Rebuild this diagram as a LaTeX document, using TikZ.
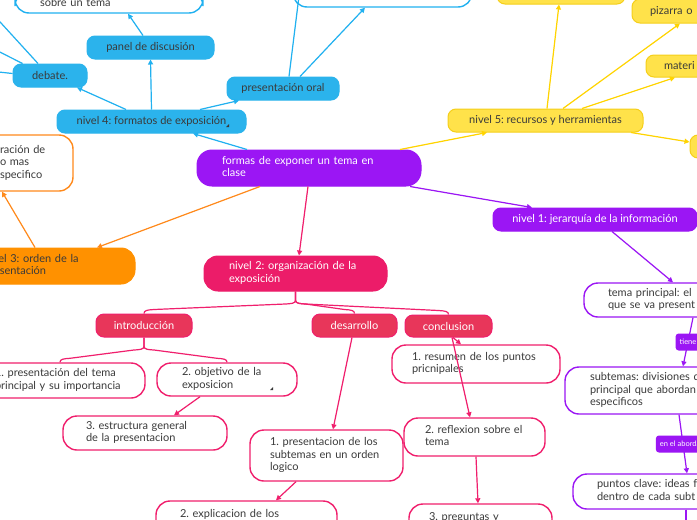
\documentclass[tikz,border=0pt]{standalone}
\usepackage{fontspec}
\setmainfont{Lato}
\frenchspacing
\usetikzlibrary{arrows.meta,calc}
\definecolor{txt}{HTML}{3A3A3A}
\definecolor{blueF}{HTML}{2BB3EC}
\definecolor{blueL}{HTML}{21B1F0}
\definecolor{yelF}{HTML}{FFE24A}
\definecolor{yelB}{HTML}{F5CF1A}
\definecolor{yelL}{HTML}{FFD400}
\definecolor{purF}{HTML}{9B16F4}
\definecolor{oraF}{HTML}{FF9100}
\definecolor{oraL}{HTML}{FF8A1C}
\definecolor{pinkF}{HTML}{EC1C69}
\definecolor{redF}{HTML}{E8365A}
\definecolor{pinkL}{HTML}{F01F6D}
\newcommand{\mlines}[1]{\begin{tabular}{@{}l@{}}#1\end{tabular}}
\begin{document}
\begin{tikzpicture}[x=1pt,y=-1pt,
  bx/.style={rounded corners=8pt, inner sep=0pt, font=\fontsize{11}{12.5}\selectfont\frenchspacing, line width=1pt},
  bluebox/.style={bx, fill=blueF, draw=blueF, text=txt},
  yelbox/.style={bx, fill=yelF, draw=yelB, text=txt},
  purbox/.style={bx, fill=purF, draw=purF, text=white},
  orabox/.style={bx, fill=oraF, draw=oraF, text=txt},
  pinkbox/.style={bx, fill=pinkF, draw=pinkF, text=white},
  redbox/.style={bx, fill=redF, draw=pinkL, text=white},
  wbox/.style={bx, rounded corners=14pt, fill=white, draw=#1, line width=1.4pt, text=txt},
  lt/.style={align=left, text width=#1},
  lbl/.style={fill=purF, text=white, font=\fontsize{7.5}{9}\selectfont, rounded corners=3pt, inner xsep=4pt, inner ysep=0pt, minimum height=17pt},
  con/.style={line width=1.2pt, -{Triangle[length=5pt,width=5pt]}},
  bcon/.style={con, draw=blueL, fill=blueL},
  ycon/.style={con, draw=yelL, fill=yelL},
  pcon/.style={con, draw=purF, fill=purF},
  ocon/.style={con, draw=oraL, fill=oraL},
  kcon/.style={con, draw=pinkL, fill=pinkL},
  kline/.style={line width=1.2pt, draw=pinkL}]
\useasboundingbox (0,0) rectangle (697,520);
\clip (0,0) rectangle (697,520);
\fill[white] (0,0) rectangle (697,520);
% blue branch
\node[wbox=blueL, lt=138pt, inner xsep=25pt, minimum height=21pt] (topL) at (109,2.5) {sobre un tema};
\node[wbox=blueL, minimum width=179pt, minimum height=27pt] (topM) at (382.5,-6.5) {};
\node[bluebox, minimum width=127pt, minimum height=23pt] (panel) at (150.5,47.5) {panel de discusión};
\node[bluebox, minimum width=74pt, minimum height=23pt] (debate) at (50,75.5) {debate.};
\node[bluebox, minimum width=189pt, minimum height=23pt] (nivel4) at (151.5,121.5) {nivel 4: formatos de exposición};
\node[bluebox, minimum width=112pt, minimum height=23pt] (oral) at (283,88.5) {presentación oral};
% yellow branch
\node[yelbox, minimum width=128pt, minimum height=24pt] (topY) at (561,-8) {};
\node[yelbox, lt=94pt, inner xsep=18pt, minimum height=24pt] (pizarra) at (697,11) {pizarra o};
\node[yelbox, lt=94pt, inner xsep=18pt, minimum height=22pt] (materi) at (711,66) {materi};
\node[yelbox, minimum width=70pt, minimum height=23pt] (smallY) at (725,146.5) {};
\node[yelbox, minimum width=195pt, minimum height=23pt] (nivel5) at (545.5,120.5) {nivel 5: recursos y herramientas};
% purple
\node[purbox, lt=174pt, inner xsep=25pt, minimum height=36pt, rounded corners=15pt] (formas) at (309,168) {\mlines{formas de exponer un tema en\\clase}};
\node[purbox, minimum width=204pt, minimum height=23pt] (nivel1) at (595,219.5) {nivel 1: jerarquía de la información};
\node[wbox=purF, lt=148pt, inner xsep=24pt, minimum height=34pt] (tema) at (682,300) {\mlines{tema principal: el\\que se va present}};
\node[wbox=purF, lt=175pt, inner xsep=25pt, minimum height=47pt] (subtemas) at (677.5,390.5) {\mlines{subtemas: divisiones d\\principal que abordan\\especificos}};
\node[wbox=purF, lt=169pt, inner xsep=24pt, minimum height=35pt] (puntos) at (681.5,491.5) {\mlines{puntos clave: ideas f\\dentro de cada subt}};
% orange
\node[orabox, lt=126pt, inner xsep=25pt, minimum height=36pt, rounded corners=14pt] (nivel3) at (47,266) {\mlines{nivel 3: orden de la\\presentación}};
\node[wbox=oraL, lt=56pt, inner xsep=17pt, minimum height=56pt] (oraTop) at (28,163) {\mlines{ración de\\o mas\\specifico}};
% pink
\node[pinkbox, lt=133pt, inner xsep=25pt, minimum height=35pt, rounded corners=14pt] (nivel2) at (295.5,273.5) {\mlines{nivel 2: organización de la\\exposición}};
\node[redbox, minimum width=96pt, minimum height=23pt] (intro) at (144,325.5) {introducción};
\node[redbox, minimum width=85pt, minimum height=23pt] (desarrollo) at (354.5,325.5) {desarrollo};
\node[redbox, minimum width=87pt, minimum height=22pt] (conclusion) at (448.5,326) {conclusion};
\node[wbox=pinkL, lt=130pt, inner xsep=20pt, minimum height=35pt] (p1) at (60,380.5) {\mlines{1. presentación del tema\\principal y su importancia}};
\node[wbox=pinkL, lt=90pt, inner xsep=25pt, minimum height=33pt] (p2) at (227,379.5) {\mlines{2. objetivo de la\\exposicion}};
\node[wbox=pinkL, lt=118pt, inner xsep=23pt, minimum height=34pt] (p3) at (145,433) {\mlines{3. estructura general\\de la presentacion}};
\node[wbox=pinkL, lt=113pt, inner xsep=20pt, minimum height=51pt] (d1) at (326.5,455.5) {\mlines{1. presentacion de los\\subtemas en un orden\\logico}};
\node[wbox=pinkL, lt=133pt, inner xsep=24pt, minimum height=40pt] (d2) at (246.5,521) {\mlines{2. explicacion de los\\\mbox{}}};
\node[wbox=pinkL, lt=128pt, inner xsep=20pt, minimum height=38pt] (c1) at (476,364) {\mlines{1. resumen de los puntos\\pricnipales}};
\node[wbox=pinkL, lt=99pt, inner xsep=21pt, minimum height=38pt] (c2) at (474.5,437) {\mlines{2. reflexion sobre el\\tema}};
\node[wbox=pinkL, lt=103pt, inner xsep=20pt, minimum height=40pt] (c3) at (480.5,524) {\mlines{3. preguntas y\\\mbox{}}};
% note marks
\fill[txt] (226,127) -- (229,127) -- (229,124) -- cycle;
\fill[txt] (270,390) -- (273,390) -- (273,387) -- cycle;
% off-picture ends
\coordinate (offA) at (-20,0);
\coordinate (offB) at (-20,42);
\coordinate (offC) at (-20,70);
\coordinate (offD) at (301,-20);
\coordinate (offE) at (686,540);
% blue connectors
\draw[bcon] (nivel4.north) -- (panel.south);
\draw[bcon] ([xshift=-25.5pt]nivel4.north) -- ([xshift=27pt]debate.south);
\draw[bcon] ([xshift=48.5pt]nivel4.north) -- ([xshift=-44pt]oral.south);
\draw[bcon] ([xshift=-62pt]formas.north) -- ([xshift=41.5pt]nivel4.south);
\draw[bcon] ([xshift=-7.5pt]panel.north) -- ([xshift=19pt]topL.south);
\draw[bcon] ([xshift=-12pt]debate.north) -- (offA);
\draw[bcon] ([xshift=10pt]debate.north west) -- (offB);
\draw[bcon] ([yshift=2pt]debate.west) -- (offC);
\draw[bcon] ([xshift=6pt]oral.north) -- (offD);
\draw[bcon] ([xshift=17pt]oral.north) -- ([xshift=-17.5pt]topM.south);
% yellow connectors
\draw[ycon] ([xshift=91pt]formas.north) -- ([xshift=-58.5pt]nivel5.south);
\draw[ycon] ([xshift=1.5pt]nivel5.north) -- ([xshift=-2pt]topY.south);
\draw[ycon] ([xshift=17.5pt]nivel5.north) -- ([xshift=-17pt]pizarra.south);
\draw[ycon] ([xshift=36.5pt]nivel5.north) -- ([xshift=-36pt]materi.south);
\draw[ycon] ([xshift=85.5pt]nivel5.south) -- ([yshift=4.5pt]smallY.west);
% purple connectors
\draw[pcon] ([xshift=101pt]formas.south) -- ([xshift=-63pt]nivel1.north);
\draw[pcon] ([xshift=17pt]nivel1.south) -- ([xshift=-9pt]tema.north);
\draw[pcon] ([xshift=11pt]tema.south) -- node[lbl] (lt1) {tiene} ([xshift=5.5pt]subtemas.north);
\draw[pcon] ([xshift=1.5pt]subtemas.south) -- node[lbl] (lt2) {en el abordaje} ([xshift=5.5pt]puntos.north);
\draw[pcon] ([xshift=4.5pt]puntos.south) -- (offE);
% orange connectors
\draw[ocon] ([xshift=-49pt]formas.south) -- ([xshift=50pt]nivel3.north);
\draw[ocon] ([xshift=-12pt]nivel3.north) -- ([xshift=-26pt]oraTop.south);
% pink connectors
\draw[kcon] ([xshift=-1pt]formas.south) -- ([xshift=3.5pt]nivel2.north);
\draw[kline] (nivel2.south) -- ++(0,9) .. controls +(0,3) and +(5,-0.3) .. ++(-10,3.5) -- ([xshift=10pt,yshift=4pt]intro.north) .. controls +(-7,0.4) and +(0,-3) .. (intro.north);
\draw[kline] (nivel2.south) -- ++(0,9) .. controls +(0,3) and +(-5,-0.3) .. ++(10,3.5) -- ([xshift=-10pt,yshift=4pt]desarrollo.north) .. controls +(7,0.4) and +(0,-3) .. (desarrollo.north);
\draw[kline] (nivel2.south) -- ++(0,9) .. controls +(0,3) and +(-5,-0.3) .. ++(10,3.5) -- ([xshift=-10pt,yshift=4pt]conclusion.north) .. controls +(7,0.4) and +(0,-3) .. (conclusion.north);
\draw[kline] (intro.south) -- ++(0,9) .. controls +(0,3) and +(5,-0.3) .. ++(-10,3.5) -- ([xshift=10pt,yshift=4pt]p1.north) .. controls +(-7,0.4) and +(0,-3) .. (p1.north);
\draw[kline] (intro.south) -- ++(0,9) .. controls +(0,3) and +(-5,-0.3) .. ++(10,3.5) -- ([xshift=-10pt,yshift=4pt]p2.north) .. controls +(7,0.4) and +(0,-3) .. (p2.north);
\draw[kcon] ([xshift=-27pt]p2.south) -- ([xshift=29pt]p3.north);
\draw[kcon] ([xshift=-2.5pt]desarrollo.south) -- ([xshift=6.5pt]d1.north);
\draw[kcon] ([xshift=-30.5pt]d1.south) -- ([xshift=29.5pt]d2.north);
\draw[kcon] ([xshift=4.5pt]conclusion.south) -- ([xshift=-15pt]c1.north);
\draw[kcon] ([xshift=3.5pt]conclusion.south) -- ([xshift=-4.5pt]c2.north);
\draw[kcon] ([xshift=1.5pt]c2.south) -- ([xshift=-2.5pt]c3.north);
\end{tikzpicture}
\end{document}
